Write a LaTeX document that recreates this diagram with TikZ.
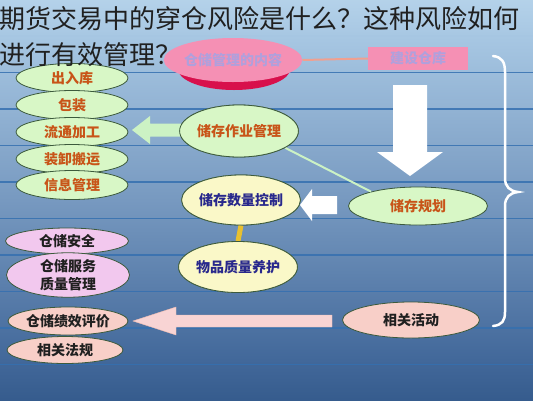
\documentclass[tikz,border=0pt]{standalone}
\usepackage{fontspec}
\setmainfont{Noto Sans CJK SC}
\usetikzlibrary{shapes.geometric}
\definecolor{c0}{HTML}{08264E}
\definecolor{c1}{HTML}{163C6C}
\definecolor{c2}{HTML}{42689A}
\definecolor{c3}{HTML}{7799C0}
\definecolor{c4}{HTML}{A6C6E2}
\definecolor{c5}{HTML}{C8E2F4}
\definecolor{c6}{HTML}{DDEEF8}
\definecolor{c7}{HTML}{E8F4FA}
\definecolor{linec}{HTML}{3570B0}
\definecolor{lgreen}{HTML}{D8F7C6}
\definecolor{gborder}{HTML}{3C5A3C}
\definecolor{ortext}{HTML}{C85418}
\definecolor{lyellow}{HTML}{FAF8C8}
\definecolor{navytext}{HTML}{28288C}
\definecolor{lavender}{HTML}{F2C8EE}
\definecolor{peach}{HTML}{F8CFC8}
\definecolor{pinkfill}{HTML}{F590B4}
\definecolor{crimson}{HTML}{D8104C}
\definecolor{lavtext}{HTML}{B0A0DC}
\definecolor{salmon}{HTML}{F0A090}
\definecolor{goldc}{HTML}{E8C030}
\definecolor{arrgreen}{HTML}{CCF2C4}
\definecolor{arrpink}{HTML}{F8D4D4}
\definecolor{titlec}{HTML}{202020}
\pgfdeclareverticalshading{bgsh}{100bp}{color(0bp)=(c0); color(12bp)=(c1); color(30bp)=(c2); color(50bp)=(c3); color(70bp)=(c4); color(82bp)=(c5); color(90bp)=(c6); color(100bp)=(c7)}
\begin{document}
\begin{tikzpicture}[x=1pt,y=-1pt,
  every node/.style={inner sep=0pt, font=\bfseries\fontsize{14}{17}\selectfont},
  ell/.style={ellipse, draw=gborder, line width=0.8pt},
  gell/.style={ell, fill=lgreen, text=ortext},
  yell/.style={ell, fill=lyellow, text=navytext},
  lell/.style={ell, fill=lavender, text=titlec},
  pell/.style={ell, fill=peach, text=titlec},
  hline/.style={linec, line width=1.2pt, opacity=0.85},
  title/.style={anchor=west, text=titlec, font=\fontsize{26}{30}\selectfont}]
\useasboundingbox (0,0) rectangle (533,400);
\shade[shading=bgsh] (0,0) rectangle (533,400);
% horizontal lines
\draw[hline, color=c4] (0,36) -- (533,36);
\foreach \yy in {72.5,109,145.5,182,218.5,255,291.5,328,364.5}
  \draw[hline] (0,\yy) -- (533,\yy);
% brace
\draw[white, line width=2.5pt, line cap=round] (493,56) .. controls (502,57) and (505,62) .. (505,72) -- (505,178) .. controls (505,187) and (510,191) .. (518,192) .. controls (510,193) and (505,197) .. (505,206) -- (505,312) .. controls (505,321) and (502,325) .. (493,326);
% top pink ellipse and rectangle
\node[ellipse, fill=crimson, minimum width=112pt, minimum height=42pt] (pes) at (234,69) {};
\node[ellipse, fill=pinkfill, minimum width=116pt, minimum height=44pt, text=lavtext] (pe) at (233,60) {仓储管理的内容};
\node[rectangle, fill=pinkfill, minimum width=100pt, minimum height=23pt, text=lavtext] (jr) at (418,58.5) {建设仓库};
\draw[salmon, line width=2pt] (pe.east) -- (jr.west);
% connectors
\node[gell, minimum width=139pt, minimum height=38pt] (gh) at (418,206) {储存规划};
\node[gell, minimum width=118pt, minimum height=52pt] (zy) at (239,131) {储存作业管理};
\draw[arrgreen, line width=2pt] (zy.-20) -- (gh.163);
% arrows
\fill[arrgreen] (132,130) -- (150,116) -- (150,123.5) -- (181,123.5) -- (181,136.5) -- (150,136.5) -- (150,144) -- cycle;
\fill[white] (300,205) -- (312,189) -- (312,196) -- (337,196) -- (337,214) -- (312,214) -- (312,221) -- cycle;
\fill[white] (393,85) -- (427,85) -- (427,152) -- (443,152) -- (410,176) -- (377,152) -- (393,152) -- cycle;
\filldraw[fill=arrpink, draw=salmon!70!white, line width=0.4pt] (133,321) -- (176,307) -- (176,315) -- (332,315) -- (332,327) -- (176,327) -- (176,335) -- cycle;
% re-draw middle green ellipse on top of green arrow
\node[gell, minimum width=118pt, minimum height=52pt] at (zy) {储存作业管理};
% left green column
\node[gell, minimum width=112pt, minimum height=29pt] (g1) at (72,78) {出入库};
\node[gell, minimum width=112pt, minimum height=29pt] (g2) at (72,105) {包装};
\node[gell, minimum width=112pt, minimum height=29pt] (g3) at (72,132) {流通加工};
\node[gell, minimum width=112pt, minimum height=29pt] (g4) at (72,159) {装卸搬运};
\node[gell, minimum width=112pt, minimum height=29pt] (g5) at (72,185) {信息管理};
% yellow ellipses
\node[yell, minimum width=112pt, minimum height=50pt] (sq) at (241,200) {储存数量控制};
\node[yell, minimum width=117pt, minimum height=51pt] (wp) at (238,267) {物品质量养护};
\draw[goldc, line width=5pt] (sq.south) -- (wp.north);
\node[yell, minimum width=112pt, minimum height=50pt] at (sq) {储存数量控制};
\node[yell, minimum width=117pt, minimum height=51pt] at (wp) {物品质量养护};
% bottom left
\node[lell, minimum width=123pt, minimum height=26pt] (p1) at (67,241) {仓储安全};
\node[lell, minimum width=123pt, minimum height=40pt, align=center, font=\bfseries\fontsize{14}{18}\selectfont] (p2) at (68,275) {仓储服务\\质量管理};
\node[pell, minimum width=120pt, minimum height=28pt] (p3) at (68,321) {仓储绩效评价};
\node[pell, minimum width=116pt, minimum height=27pt] (p4) at (65,350) {相关法规};
\node[pell, minimum width=137pt, minimum height=36pt] (xh) at (411,320) {相关活动};
% title
\node[title] (t1) at (-1,19) {期货交易中的穿仓风险是什么？这种风险如何};
\node[title] (t2) at (-1,55) {进行有效管理？};
\end{tikzpicture}
\end{document}
